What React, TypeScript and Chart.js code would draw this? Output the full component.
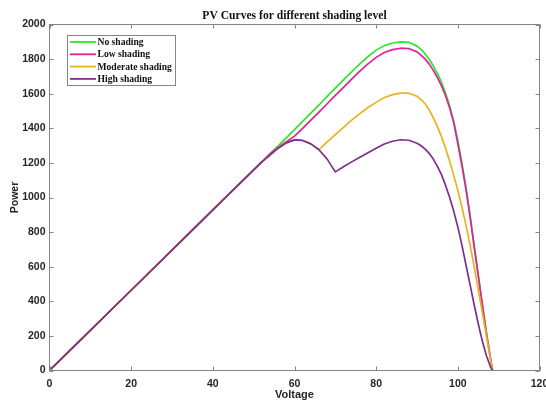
import { useEffect, useRef } from "react";
import { Chart, registerables } from "chart.js";

Chart.register(...registerables);

// ---- data ----
const voltage = [0, 10, 20, 30, 40, 50, 52, 54, 56, 58, 60, 62, 64, 66, 68, 70, 72, 74, 76, 78, 80, 82, 84, 86, 88, 90, 91, 92, 93, 94, 95, 96, 97, 98, 99, 100, 101, 102, 103, 104, 105, 106, 107, 108, 108.5];

const noShading = [0, 232, 464, 696, 928, 1160, 1206, 1253, 1299, 1345, 1392, 1440, 1488, 1535, 1585, 1632, 1680, 1727, 1773, 1815, 1852, 1878, 1893, 1900, 1897, 1875, 1856, 1830, 1798, 1760, 1716, 1665, 1603, 1530, 1440, 1330, 1200, 1060, 900, 725, 555, 385, 220, 70, 0];

const lowShading = [0, 232, 464, 696, 928, 1160, 1206, 1253, 1290, 1322, 1355, 1400, 1447, 1494, 1542, 1590, 1637, 1684, 1730, 1772, 1810, 1838, 1855, 1863, 1861, 1842, 1823, 1800, 1771, 1735, 1693, 1645, 1588, 1518, 1432, 1310, 1185, 1045, 888, 715, 547, 378, 215, 68, 0];

const moderateShading = [0, 232, 464, 696, 928, 1160, 1206, 1245, 1285, 1316, 1333, 1330, 1310, 1276, 1322, 1364, 1405, 1447, 1485, 1520, 1550, 1578, 1595, 1603, 1603, 1585, 1566, 1542, 1505, 1460, 1410, 1352, 1285, 1210, 1128, 1040, 945, 840, 725, 600, 468, 335, 200, 60, 0];

const highShading = [0, 232, 464, 696, 928, 1160, 1206, 1245, 1285, 1316, 1333, 1330, 1310, 1276, 1222, 1148, 1178, 1206, 1233, 1259, 1285, 1309, 1325, 1334, 1331, 1314, 1299, 1280, 1255, 1222, 1180, 1132, 1070, 1000, 920, 830, 725, 610, 495, 380, 270, 170, 85, 20, 0];

const seriesLabels = ["No shading", "Low shading", "Moderate shading", "High shading"];
const seriesColors = ["#2ee52e", "#e2209c", "#edb120", "#7e2f8e"];

const xTickValues = [0, 20, 40, 60, 80, 100, 120];
const yTickValues = [0, 200, 400, 600, 800, 1000, 1200, 1400, 1600, 1800, 2000];

const chartTitle = "PV Curves for different shading level";
const xTitle = "Voltage";
const yTitle = "Power";

const AXIS_COLOR = "#858585";
const TEXT_COLOR = "#262626";
const SANS = '"Liberation Sans", Arial, sans-serif';
const SERIF = '"Liberation Serif", "Times New Roman", serif';

const framePlugin = {
  id: "matlabFrame",
  afterDraw(chart: any) {
    const { ctx, chartArea: a, scales } = chart;
    ctx.save();
    ctx.strokeStyle = AXIS_COLOR;
    ctx.lineWidth = 1;
    ctx.strokeRect(a.left, a.top, a.right - a.left, a.bottom - a.top);
    const tl = 4;
    ctx.beginPath();
    xTickValues.forEach((v) => {
      const px = Math.round(scales.x.getPixelForValue(v)) + 0.5;
      ctx.moveTo(px, a.bottom);
      ctx.lineTo(px, a.bottom - tl);
      ctx.moveTo(px, a.top);
      ctx.lineTo(px, a.top + tl);
    });
    yTickValues.forEach((v) => {
      const py = Math.round(scales.y.getPixelForValue(v)) + 0.5;
      ctx.moveTo(a.left, py);
      ctx.lineTo(a.left + tl, py);
      ctx.moveTo(a.right, py);
      ctx.lineTo(a.right - tl, py);
    });
    ctx.stroke();
    ctx.restore();
  },
};

const legendPlugin = {
  id: "boxLegend",
  afterDraw(chart: any) {
    const { ctx, chartArea: a } = chart;
    const x0 = Math.round(a.left + 17) + 0.5;
    const y0 = Math.round(a.top + 10) + 0.5;
    const w = 108;
    const h = 50;
    ctx.save();
    ctx.fillStyle = "#ffffff";
    ctx.fillRect(x0, y0, w, h);
    ctx.strokeStyle = AXIS_COLOR;
    ctx.lineWidth = 1;
    ctx.strokeRect(x0, y0, w, h);
    ctx.font = "bold 9.6px " + SERIF;
    ctx.textBaseline = "middle";
    ctx.textAlign = "left";
    chart.data.datasets.forEach((ds: any, i: number) => {
      const y = y0 + 6.5 + i * 12.3;
      ctx.strokeStyle = ds.borderColor;
      ctx.lineWidth = 1.8;
      ctx.beginPath();
      ctx.moveTo(x0 + 2.5, y);
      ctx.lineTo(x0 + 28.5, y);
      ctx.stroke();
      ctx.fillStyle = "#111111";
      ctx.fillText(ds.label, x0 + 30, y + 0.5);
    });
    ctx.restore();
  },
};

export default function App() {
  const ref = useRef<HTMLCanvasElement | null>(null);

  useEffect(() => {
    document.body.style.margin = "0";
    if (!ref.current) return;
    const series = [noShading, lowShading, moderateShading, highShading];
    const chart = new Chart(ref.current, {
      type: "line",
      data: {
        datasets: series.map((vals, i) => ({
          label: seriesLabels[i],
          data: voltage.map((v, j) => ({ x: v, y: vals[j] })),
          borderColor: seriesColors[i],
          backgroundColor: seriesColors[i],
          borderWidth: 1.7,
          pointRadius: 0,
          tension: 0,
          fill: false,
          order: 4 - i,
          borderJoinStyle: "round" as const,
        })),
      },
      options: {
        responsive: false,
        animation: false,
        devicePixelRatio: 1,
        layout: { padding: { left: 0, right: 6.5, top: 0, bottom: 0 } },
        plugins: {
          legend: { display: false },
          tooltip: { enabled: false },
          title: {
            display: true,
            text: chartTitle,
            fullSize: false,
            color: "#111111",
            font: { family: SERIF, size: 11.6, weight: "bold", lineHeight: 1.2 },
            padding: { top: 9.5, bottom: 1.1 },
          },
        },
        scales: {
          x: {
            type: "linear",
            min: 0,
            max: 120,
            grid: { display: false, drawTicks: false },
            border: { display: false },
            afterBuildTicks: (scale: any) => {
              scale.ticks = xTickValues.map((v) => ({ value: v }));
            },
            afterFit: (scale: any) => {
              scale.height = 31.5;
              scale.paddingLeft = 0;
              scale.paddingRight = 0;
            },
            ticks: {
              autoSkip: false,
              maxRotation: 0,
              padding: 7,
              color: TEXT_COLOR,
              font: { family: SANS, size: 10.5, weight: "bold" },
              callback: (v: any) => String(v),
            },
            title: {
              display: true,
              text: xTitle,
              color: TEXT_COLOR,
              font: { family: SANS, size: 11, weight: "bold", lineHeight: 1.2 },
              padding: { top: 0, bottom: 0 },
            },
          },
          y: {
            type: "linear",
            min: 0,
            max: 2000,
            grid: { display: false, drawTicks: false },
            border: { display: false },
            afterBuildTicks: (scale: any) => {
              scale.ticks = yTickValues.map((v) => ({ value: v }));
            },
            afterFit: (scale: any) => {
              scale.width = 49.5;
              scale.paddingTop = 0;
              scale.paddingBottom = 0;
            },
            ticks: {
              autoSkip: false,
              padding: 4,
              color: TEXT_COLOR,
              font: { family: SANS, size: 10.5, weight: "bold" },
              callback: (v: any) => String(v),
            },
            title: {
              display: true,
              text: yTitle,
              color: TEXT_COLOR,
              font: { family: SANS, size: 10.5, weight: "bold", lineHeight: 1.2 },
              padding: { top: 9, bottom: 0 },
            },
          },
        },
      },
      plugins: [framePlugin, legendPlugin],
    });
    return () => chart.destroy();
  }, []);

  return (
    <div style={{ width: 546, height: 402 }}>
      <canvas ref={ref} width={546} height={402} style={{ display: "block" }} />
    </div>
  );
}
